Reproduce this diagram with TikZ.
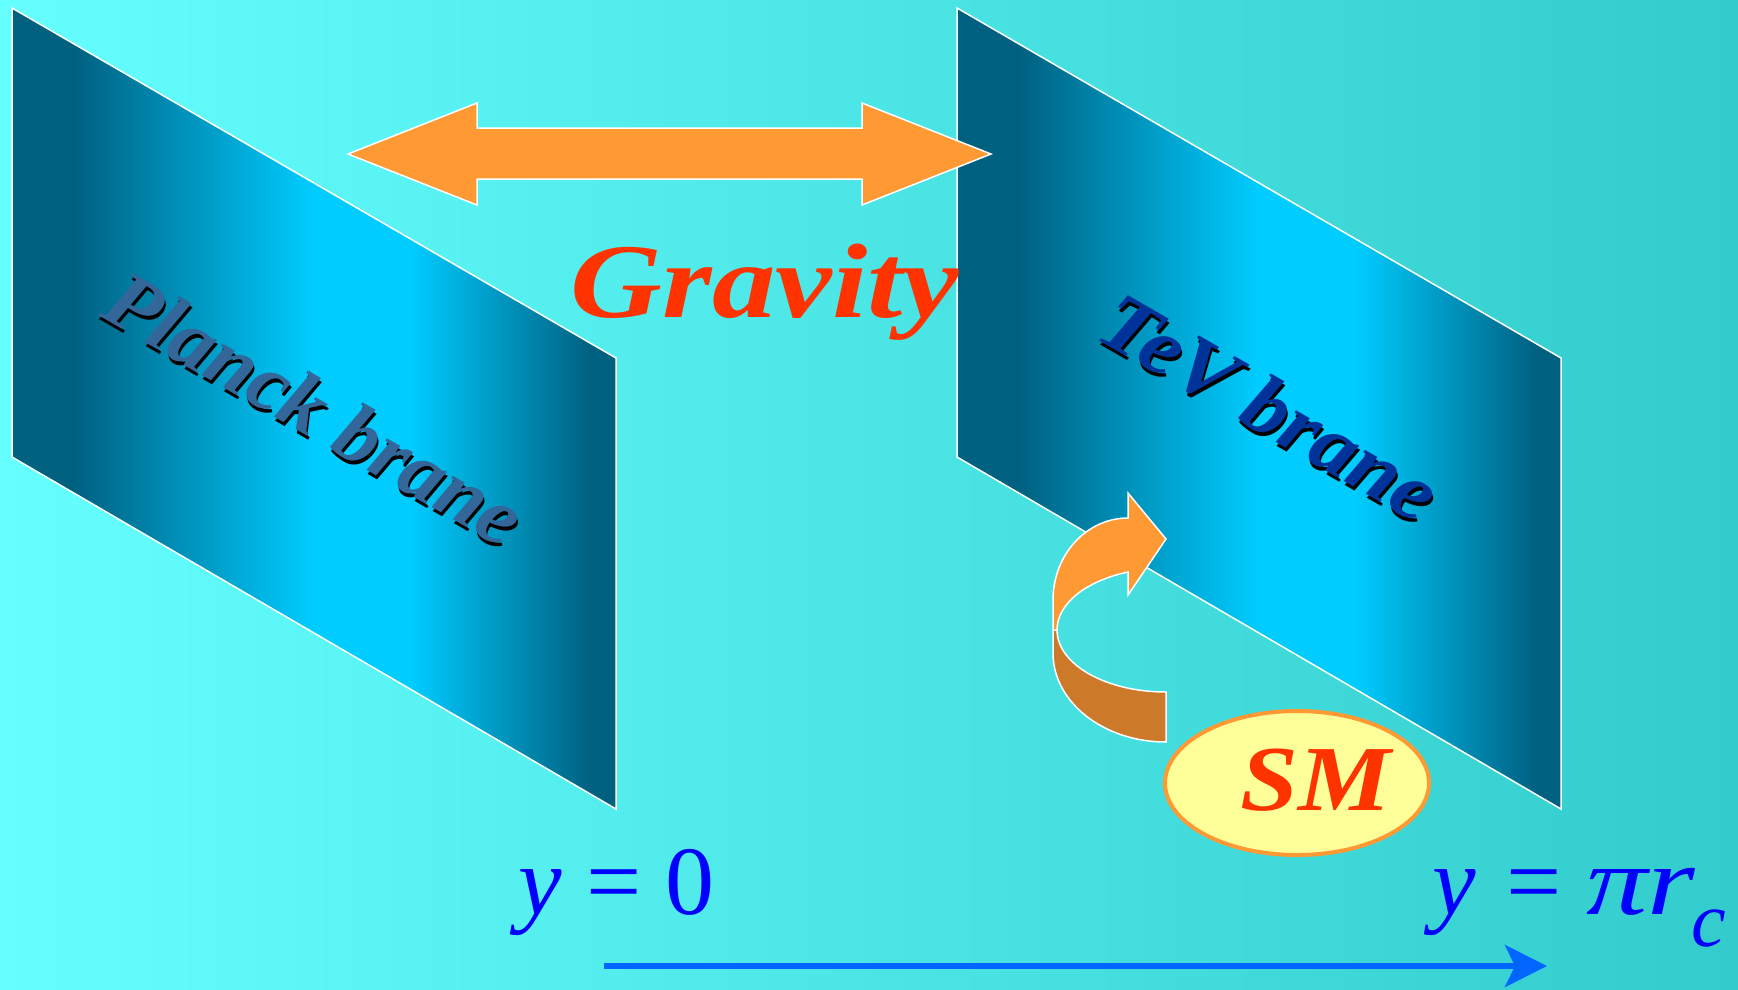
\documentclass[tikz,border=0pt]{standalone}
\usepackage{fontspec}
\usepackage{graphicx}
\setmainfont{Liberation Serif}
\usetikzlibrary{arrows.meta}

\definecolor{bgleft}{HTML}{66FFFF}
\definecolor{bgright}{HTML}{33CCCC}
\definecolor{branedark}{HTML}{006080}
\definecolor{branelight}{HTML}{00CCFF}
\definecolor{arroworange}{HTML}{FF9933}
\definecolor{arrowbrown}{HTML}{CC7A29}
\definecolor{gravityred}{HTML}{FF3300}
\definecolor{planckblue}{HTML}{336699}
\definecolor{tevblue}{HTML}{003399}
\definecolor{smfill}{HTML}{FFFF99}
\definecolor{axisblue}{HTML}{0066FF}
\definecolor{labelblue}{HTML}{0000FF}

\pgfdeclarehorizontalshading{braneshade}{100bp}{color(0bp)=(branedark); color(25bp)=(branedark); color(30bp)=(branedark); color(50bp)=(branelight); color(58bp)=(branelight); color(73bp)=(branedark); color(100bp)=(branedark)}

\tikzset{
  brane/.style={shading=braneshade, draw=white, line width=1.5pt},
  blockarrow/.style={fill=arroworange, draw=white, line width=1.5pt, line join=miter},
  branelabel/.style={font=\fontsize{82}{82}\selectfont\bfseries\itshape, rotate=-30, inner sep=0pt},
  bigred/.style={text=gravityred, inner sep=0pt, anchor=base},
  ylabel/.style={text=labelblue, inner sep=0pt, anchor=base west, font=\fontsize{98}{98}\selectfont},
}

\begin{document}
\begin{tikzpicture}[x=1pt,y=-1pt]
\useasboundingbox (0,0) rectangle (1738,989);
\shade[left color=bgleft, right color=bgright] (0,0) rectangle (1738,989);

% the two branes
\shadedraw[brane] (12,8) -- (616,358) -- (616,809) -- (12,457) -- cycle;
\shadedraw[brane] (957,8) -- (1561,358) -- (1561,809) -- (957,457) -- cycle;

\node[branelabel, text=black] (planckshadow) at (316,412) {\scalebox{1.03}[1]{Planck brane}};
\node[branelabel, text=planckblue] (plancklabel) at (315,408) {\scalebox{1.03}[1]{Planck brane}};
\node[branelabel, text=black] (tevshadow) at (1271,411) {\scalebox{1.07}[1]{TeV brane}};
\node[branelabel, text=tevblue] (tevlabel) at (1270,407) {\scalebox{1.07}[1]{TeV brane}};

% gravity arrow
\draw[blockarrow] (348,154) -- (477,103) -- (477,128) -- (862,128) -- (862,103)
  -- (991,154) -- (862,205) -- (862,179) -- (477,179) -- (477,205) -- cycle;
\node[bigred, font=\fontsize{106}{106}\selectfont\bfseries\itshape] (gravity) at (765,317) {\scalebox{1.2}[1]{Gravity}};

% curved arrow from the SM
\draw[blockarrow, fill=arrowbrown] (1057,630) .. controls (1057,664.2) and (1105.8,692) .. (1166,692)
  -- (1166,742) .. controls (1103.6,742) and (1053,702.2) .. (1053,653) -- (1053,630) -- cycle;
\draw[blockarrow] (1057,630) -- (1053,630) -- (1053,600) .. controls (1053,554.7) and (1086.6,518) .. (1128,518)
  -- (1128,493) -- (1166,539) -- (1128,595) -- (1128,572)
  .. controls (1085.3,581) and (1057,604.1) .. (1057,630) -- cycle;

\draw[draw=arroworange, fill=smfill, line width=4pt] (1297,783) ellipse [x radius=132, y radius=72];
\node[bigred, font=\fontsize{93}{93}\selectfont\bfseries\itshape] (smlabel) at (1316,810) {\scalebox{1.12}[1]{SM}};

% extra dimension
\node[ylabel] (yzero) at (518,914) {\textit{y} = 0};
\node[ylabel] (ypirc) at (1432,914) {\textit{y}\hspace{6pt} = \scalebox{1.25}[1]{\textit{πr}}\hspace{-4pt}\raisebox{-0.33em}{\fontsize{78}{78}\selectfont\textit{c}}};

\coordinate (axisstart) at (604,966);
\coordinate (axisend) at (1547,966);
\draw[axisblue, line width=6pt, -{Stealth[length=42pt, width=42pt, inset=10pt]}] (axisstart) -- (axisend);
\end{tikzpicture}
\end{document}
